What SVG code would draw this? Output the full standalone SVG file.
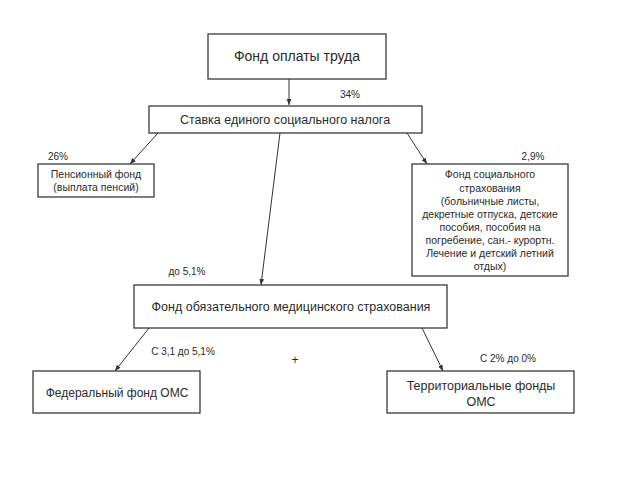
<svg xmlns="http://www.w3.org/2000/svg" width="640" height="480" viewBox="0 0 640 480">
<defs>
<style>
.box{fill:#fff;stroke:#3a3a3a;stroke-width:1.3}
text{font-family:"Liberation Sans",Arial,sans-serif;fill:#2a2a2a;text-anchor:middle}
.l{stroke:#333;stroke-width:1;fill:none;marker-end:url(#ah)}
.s10{font-size:10px}
.s105{font-size:10.5px}
.s12{font-size:12.5px}
</style>
<marker id="ah" viewBox="0 0 10 10" refX="10" refY="5" markerWidth="6" markerHeight="6" orient="auto" markerUnits="userSpaceOnUse">
<path d="M0,1 L10,5 L0,9 z" fill="#333"/>
</marker>
</defs>
<rect width="640" height="480" fill="#fff"/>
<g id="connectors">
<line class="l" x1="289" y1="79" x2="289" y2="105"/>
<line class="l" x1="158" y1="133" x2="130" y2="164"/>
<line class="l" x1="280" y1="133" x2="261" y2="285"/>
<line class="l" x1="407" y1="133" x2="427" y2="164"/>
<line class="l" x1="149" y1="328" x2="115" y2="371"/>
<line class="l" x1="422" y1="328" x2="443" y2="371"/>
</g>
<g id="n1"><rect class="box" x="208" y="34" width="178" height="45"/><text x="297" y="61" font-size="14">Фонд оплаты труда</text></g>
<g id="n2"><rect class="box" x="149" y="106" width="273" height="27"/><text class="s12" x="285" y="124">Ставка единого социального налога</text></g>
<g id="n3"><rect class="box" x="38" y="164" width="116" height="33"/><text class="s105" x="96" y="178">Пенсионный фонд</text><text class="s105" x="96" y="191">(выплата пенсий)</text></g>
<g id="n4"><rect class="box" x="412" y="164" width="156" height="112"/>
<text class="s105"><tspan x="490" y="178">Фонд социального</tspan><tspan x="490" y="192">страхования</tspan><tspan x="490" y="205">(больничные листы,</tspan><tspan x="490" y="218">декретные отпуска, детские</tspan><tspan x="490" y="231">пособия, пособия на</tspan><tspan x="490" y="244">погребение, сан.- курортн.</tspan><tspan x="490" y="257">Лечение и детский летний</tspan><tspan x="490" y="270">отдых)</tspan></text></g>
<g id="n5"><rect class="box" x="134" y="285" width="313" height="43"/><text class="s12" x="291" y="311">Фонд обязательного медицинского страхования</text></g>
<g id="n6"><rect class="box" x="33" y="371" width="167" height="42"/><text x="117" y="397" font-size="12">Федеральный фонд ОМС</text></g>
<g id="n7"><rect class="box" x="387" y="371" width="187" height="42"/><text class="s12" x="481" y="390">Территориальные фонды</text><text class="s12" x="481" y="406">ОМС</text></g>
<g id="labels">
<text class="s10" x="350" y="98">34%</text>
<text class="s10" x="58" y="160">26%</text>
<text class="s10" x="533" y="160">2,9%</text>
<text class="s10" x="187" y="275">до 5,1%</text>
<text class="s10" x="183" y="355">С 3,1 до 5,1%</text>
<text x="295" y="364" font-size="12">+</text>
<text class="s10" x="508" y="362">С 2% до 0%</text>
</g>
</svg>
